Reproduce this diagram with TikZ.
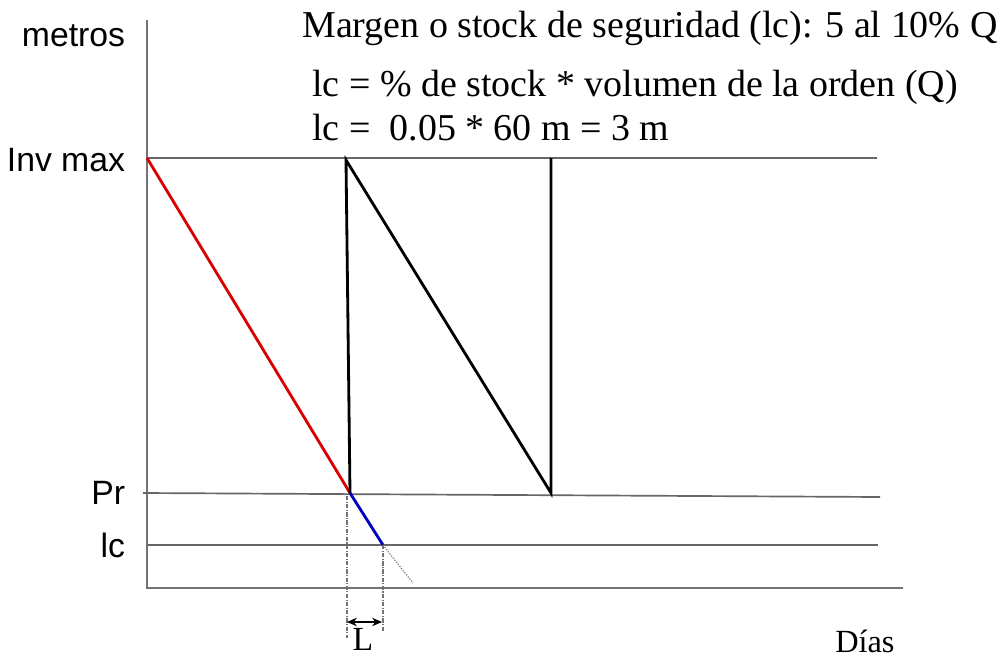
\documentclass[tikz,border=0pt]{standalone}
\usepackage{fontspec}
\setmainfont{Liberation Serif}
\newfontfamily\labelfont{Liberation Sans}
\usetikzlibrary{arrows.meta,positioning}
\tikzset{
  >=Stealth,
  line cap=round,
  line join=round,
  axisline/.style={draw=black!55, line width=1.4pt},
  levelline/.style={draw=black!60, line width=1.2pt},
  stockline/.style={draw=black, line width=2pt},
  guideline/.style={draw=black!55, line width=0.8pt, densely dash dot},
  ylabel/.style={font=\labelfont\fontsize{24}{27}\selectfont, anchor=base east},
  note/.style={font=\fontsize{27}{30}\selectfont, anchor=base west, inner sep=0pt}
}

\begin{document}
\begin{tikzpicture}[x=0.025cm, y=-0.025cm]
  \useasboundingbox (0,0) rectangle (1004,657);

  % axes
  \coordinate (O) at (147,588);
  \coordinate (Ytop) at (147,20);
  \coordinate (Xend) at (903,588);
  \draw[axisline] (Ytop) -- (O) -- (Xend);

  % levels
  \coordinate (Imax) at (147,158);
  \coordinate (ImaxR) at (877,158);
  \coordinate (PrL) at (143,493);
  \coordinate (PrR) at (880,497);
  \coordinate (IcL) at (147,545);
  \coordinate (IcR) at (878,545);
  \draw[levelline] (Imax) -- (ImaxR);
  \draw[levelline] (PrL) -- (PrR);
  \draw[levelline] (IcL) -- (IcR);

  % stock curve
  \coordinate (P1) at (350,493);
  \coordinate (T1) at (346,160);
  \coordinate (P2) at (551,493);
  \coordinate (T2) at (551,158);
  \coordinate (S1) at (383,545);
  \coordinate (S2) at (413,583);
  \draw[stockline, red!85!black] (Imax) -- (P1);
  \draw[stockline] (P1) -- (T1) -- (P2) -- (T2);
  \draw[stockline, blue!75!black] (P1) -- (S1);
  \draw[draw=black!50, line width=0.9pt, densely dotted] (S1) -- (S2);

  % lead time
  \coordinate (Ga) at (347,496);
  \coordinate (La) at (347,638);
  \coordinate (Lb) at (383,632);
  \draw[guideline] (Ga) -- (La);
  \draw[guideline] (S1) -- (Lb);
  \coordinate (Aa) at (347,622);
  \coordinate (Ab) at (382,622);
  \draw[<->, line width=1.2pt, >={Stealth[length=7pt,width=6pt]}] (Aa) -- (Ab);
  \node[font=\fontsize{24}{27}\selectfont, anchor=base, inner sep=0pt] (L) at (363,650) {L};

  % labels
  \node[ylabel] (metros) at (130,47) {metros};
  \node[ylabel] (inv) at (130,171) {Inv max};
  \node[ylabel] (pr) at (130,504) {Pr};
  \node[ylabel] (lc) at (130,557) {lc};
  \node[font=\fontsize{23}{26}\selectfont, anchor=base west, inner sep=0pt] (dias) at (835,652) {Días};

  % notes
  \node[note] (n1) at (302,38) {Margen o stock de seguridad (lc): 5 al 10\% Q};
  \node[note] (n2) at (312,97) {lc = \% de stock * volumen de la orden (Q)};
  \node[note] (n3) at (312,140) {lc =\ \ 0.05 * 60 m = 3 m};
\end{tikzpicture}
\end{document}
